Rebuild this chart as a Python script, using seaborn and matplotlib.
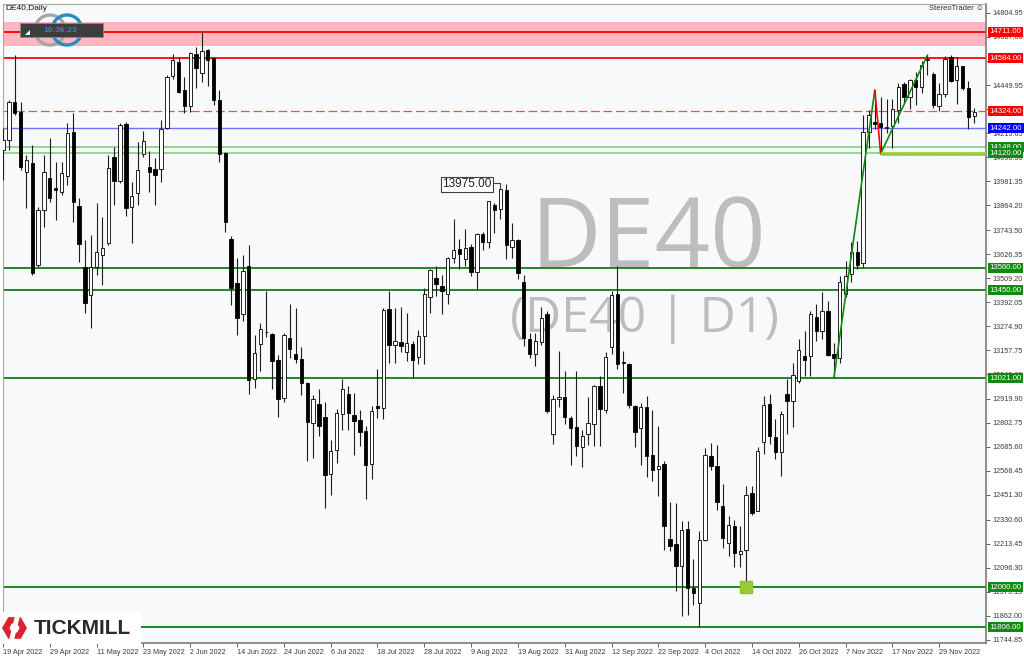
import numpy as np
import matplotlib
matplotlib.use("Agg")
import matplotlib.pyplot as plt
import seaborn as sns
from matplotlib.patches import Rectangle, Circle, RegularPolygon, Polygon
import matplotlib.transforms as mtransforms

# ---------------- data (daily DE40 candles, 19 Apr 2022 .. 7 Dec 2022) ----------------
opens = [14135, 14184, 14368, 14319, 14029, 14070, 13574, 13842, 14000, 13951,
         13932, 14010, 14224, 13863, 13565, 13427, 13565, 13622, 13679, 14102,
         13984, 14260, 13858, 13923, 14114, 14053, 14042, 14042, 14241, 14498,
         14563, 14428, 14351, 14602, 14509, 14623, 14582, 14379, 14119, 13699,
         13484, 13332, 13571, 13018, 13190, 13248, 13239, 13109, 12925, 13218,
         13141, 13115, 12998, 12803, 12896, 12832, 12555, 12669, 12848, 12946,
         12842, 12819, 12762, 12604, 12884, 12873, 13360, 13182, 13198, 13148,
         13190, 13125, 13226, 13418, 13511, 13473, 13430, 13609, 13653, 13604,
         13662, 13539, 13723, 13685, 13864, 13845, 13942, 13662, 13695, 13490,
         13213, 13141, 13197, 13332, 12746, 12917, 12930, 12827, 12783, 12685,
         12746, 12799, 12985, 12868, 13174, 13434, 13099, 13088, 12887, 12778,
         12881, 12648, 12578, 12604, 12236, 12209, 12106, 12285, 11997, 11924,
         12233, 12640, 12591, 12396, 12217, 12298, 12162, 12183, 12458, 12371,
         12711, 12894, 12733, 12659, 12943, 12908, 13007, 13129, 13129, 13321,
         13251, 13350, 13141, 13120, 13430, 13530, 13639, 13582, 14221, 14270,
         14267, 14243, 14253, 14331, 14458, 14394, 14479, 14441, 14575, 14505,
         14349, 14410, 14587, 14476, 14546, 14436, 14299]
highs = [14241, 14379, 14599, 14371, 14110, 14159, 13858, 14110, 14192, 14078,
         14078, 14265, 14314, 13899, 13696, 13720, 13875, 13809, 14110, 14151,
         14265, 14273, 13980, 14176, 14228, 14130, 14094, 14281, 14501, 14602,
         14590, 14493, 14615, 14639, 14709, 14628, 14586, 14428, 14127, 13717,
         13606, 13620, 13669, 13230, 13291, 13446, 13242, 13136, 13242, 13381,
         13364, 13174, 13001, 12941, 12966, 12904, 12718, 12871, 13019, 12982,
         12949, 12865, 12786, 12884, 13066, 13364, 13446, 13364, 13369, 13337,
         13202, 13255, 13462, 13555, 13568, 13527, 13613, 13796, 13698, 13750,
         13674, 13731, 13734, 13885, 13877, 13950, 13967, 13780, 13700, 13527,
         13242, 13242, 13369, 13348, 12941, 13153, 13055, 12835, 13055, 12767,
         12930, 12990, 13034, 13148, 13446, 13568, 13153, 13096, 12892, 12900,
         12936, 12865, 12786, 12615, 12415, 12412, 12322, 12322, 12138, 12274,
         12681, 12705, 12697, 12502, 12347, 12331, 12298, 12493, 12493, 12685,
         12932, 12943, 12820, 12859, 13019, 13094, 13211, 13251, 13350, 13382,
         13443, 13399, 13193, 13521, 13591, 13687, 13692, 14305, 14331, 14427,
         14395, 14384, 14384, 14462, 14465, 14483, 14514, 14570, 14598, 14514,
         14462, 14593, 14601, 14587, 14546, 14471, 14340]
lows = [13988, 14135, 14306, 14037, 13850, 13525, 13565, 13761, 13883, 13793,
        13915, 13964, 13785, 13590, 13338, 13264, 13525, 13476, 13671, 13866,
        13972, 13814, 13679, 13866, 14102, 13932, 13866, 13980, 14237, 14481,
        14411, 14314, 14322, 14439, 14468, 14449, 14355, 14078, 13736, 13378,
        13232, 13299, 12946, 12974, 13055, 13220, 12966, 12832, 12904, 13120,
        13096, 12941, 12616, 12632, 12738, 12388, 12453, 12607, 12770, 12767,
        12648, 12692, 12432, 12529, 12827, 12822, 13096, 13093, 13148, 13104,
        13023, 13088, 13088, 13337, 13421, 13332, 13381, 13584, 13555, 13568,
        13519, 13454, 13649, 13657, 13731, 13796, 13604, 13609, 13506, 13180,
        13120, 13079, 13185, 12852, 12702, 12881, 12795, 12599, 12640, 12588,
        12697, 12692, 12689, 12852, 13141, 13067, 12949, 12876, 12686, 12599,
        12539, 12518, 12445, 12184, 12176, 11981, 11858, 11867, 11915, 11806,
        12225, 12575, 12379, 12192, 12152, 12099, 12101, 12000, 12354, 12371,
        12650, 12702, 12624, 12542, 12746, 12781, 12998, 13033, 13033, 13204,
        13211, 13129, 13021, 13094, 13417, 13490, 13556, 13565, 14145, 14235,
        14117, 14218, 14145, 14267, 14366, 14336, 14354, 14413, 14500, 14340,
        14323, 14392, 14465, 14361, 14427, 14239, 14267]
closes = [14184, 14371, 14314, 14053, 14086, 13533, 13842, 14029, 13902, 13940,
          14021, 14216, 13883, 13674, 13386, 13565, 13635, 13658, 14049, 13984,
          14257, 13850, 13912, 14037, 14180, 14029, 14013, 14237, 14493, 14574,
          14416, 14351, 14607, 14533, 14618, 14574, 14379, 14114, 13782, 13463,
          13313, 13543, 13011, 13145, 13262, 13244, 13104, 12920, 13231, 13161,
          13115, 12995, 12808, 12920, 12786, 12550, 12664, 12852, 12969, 12852,
          12811, 12757, 12599, 12860, 12874, 13353, 13185, 13202, 13177, 13193,
          13112, 13226, 13434, 13547, 13483, 13446, 13609, 13649, 13625, 13657,
          13539, 13723, 13685, 13885, 13841, 13946, 13669, 13695, 13532, 13218,
          13141, 13202, 13316, 12860, 12920, 12930, 12832, 12778, 12692, 12741,
          12803, 12985, 12871, 13125, 13425, 13088, 13093, 12892, 12757, 12881,
          12640, 12575, 12594, 12298, 12204, 12106, 12282, 11997, 11972, 12233,
          12648, 12591, 12415, 12241, 12306, 12168, 12176, 12449, 12362, 12667,
          12891, 12737, 12659, 12845, 12908, 13037, 13159, 13112, 13333, 13251,
          13350, 13134, 13120, 13490, 13521, 13639, 13573, 14221, 14308, 14262,
          14249, 14248, 14336, 14444, 14396, 14476, 14441, 14549, 14580, 14354,
          14406, 14580, 14471, 14546, 14436, 14296, 14319]

date_labels = ["19 Apr 2022", "29 Apr 2022", "11 May 2022", "23 May 2022", "2 Jun 2022",
               "14 Jun 2022", "24 Jun 2022", "6 Jul 2022", "18 Jul 2022", "28 Jul 2022",
               "9 Aug 2022", "19 Aug 2022", "31 Aug 2022", "12 Sep 2022", "22 Sep 2022",
               "4 Oct 2022", "14 Oct 2022", "26 Oct 2022", "7 Nov 2022", "17 Nov 2022",
               "29 Nov 2022"]
date_bar_index = [0, 8, 16, 24, 32, 40, 48, 56, 64, 72, 80, 88, 96, 104, 112,
                  120, 128, 136, 144, 152, 160]

price_ticks = [14804.95, 14687.80, 14570.65, 14449.95, 14332.80, 14215.65, 14098.50,
               13981.35, 13864.20, 13743.50, 13626.35, 13509.20, 13392.05, 13274.90,
               13157.75, 13040.60, 12919.90, 12802.75, 12685.60, 12568.45, 12451.30,
               12330.60, 12213.45, 12096.30, 11979.15, 11862.00, 11744.85]

red_levels = [14711.0, 14584.0]
dashed_level = 14324.0
blue_level = 14242.0
lightgreen_levels = [14148.0, 14120.0]
green_levels = [13560.0, 13450.0, 13021.0, 12000.0, 11806.0]
zone_low, zone_high = 14645.0, 14760.0

trend_up1 = ([142, 149], [13021, 14427])
trend_down = ([149, 150], [14427, 14117])
trend_up2 = ([150, 158], [14117, 14598])
support_start, support_level = 150, 14117
marker_bar, marker_price = 127, 12000
label_bar, label_price = 85, 13975.0

# ---------------- figure ----------------
sns.set_style("white")
plt.rcParams["font.family"] = ["Liberation Sans", "DejaVu Sans"]

W, H = 1024, 658
fig = plt.figure(figsize=(W / 100, H / 100), dpi=100, facecolor="white")
ax_l, ax_r, ax_t, ax_b = 2.7, 986.0, 3.5, 643.0
ax = fig.add_axes([ax_l / W, 1 - ax_b / H, (ax_r - ax_l) / W, (ax_b - ax_t) / H])
ax.set_facecolor("#f8f9fb")

n = len(opens)
xs = np.arange(n)
o = np.array(opens, float)
c = np.array(closes, float)
hi = np.array(highs, float)
lo = np.array(lows, float)
up = c >= o

# zone and levels
ax.axhspan(zone_low, zone_high, color="#ffb6c1", lw=0, zorder=1)
for lv in red_levels:
    ax.axhline(lv, color="#ff0000", lw=1.3, zorder=2)
ax.axhline(dashed_level, color="#ff4a4a", lw=0.9, ls=(0, (7, 3)), zorder=2)
ax.axhline(blue_level, color="#6f6fff", lw=1.0, zorder=2)
for lv in lightgreen_levels:
    ax.axhline(lv, color="#8fd18f", lw=1.3, zorder=2)
for lv in green_levels:
    ax.axhline(lv, color="#1b8a1b", lw=1.4, zorder=2)

# watermark
def px2ax(px, py):
    return (px - ax_l) / (ax_r - ax_l), 1 - (py - ax_t) / (ax_b - ax_t)

wx, wy = px2ax(648, 267)
ax.text(wx, wy, "DE40", transform=ax.transAxes, ha="center", va="baseline",
        fontsize=70, color="#bdbdbd", family="Open Sans", zorder=1.5)
wx, wy = px2ax(645, 332)
ax.text(wx, wy, "(DE40 | D1)", transform=ax.transAxes, ha="center", va="baseline",
        fontsize=36, color="#bdbdbd", family="Open Sans", zorder=1.5)

# candles
ax.vlines(xs, lo, hi, color="#1e1e1e", lw=0.8, zorder=3)
bw = 0.58
ax.bar(xs[up], np.maximum(c - o, 1)[up], bottom=o[up], width=bw, color="white",
       edgecolor="black", lw=0.6, zorder=4)
ax.bar(xs[~up], np.maximum(o - c, 1)[~up], bottom=c[~up], width=bw, color="black",
       edgecolor="black", lw=0.6, zorder=4)

# trend lines
sns.lineplot(x=trend_up1[0], y=trend_up1[1], ax=ax, color="#0b8a0b", lw=1.2,
             estimator=None, sort=False, zorder=5)
sns.lineplot(x=trend_down[0], y=trend_down[1], ax=ax, color="#ff0000", lw=1.2,
             estimator=None, sort=False, zorder=5)
sns.lineplot(x=trend_up2[0], y=trend_up2[1], ax=ax, color="#0b8a0b", lw=1.2,
             estimator=None, sort=False, zorder=5)
ax.plot([support_start, 170], [support_level, support_level], color="#a8d040",
        lw=2.6, zorder=5, solid_capstyle="butt")
ax.plot([support_start, 170], [support_level, support_level], color="#7ea628",
        lw=0.8, ls=(0, (1, 1.5)), zorder=5)
ax.plot([marker_bar], [marker_price], marker="s", ms=8.5, color="#9acd32",
        mec="#8cc02a", zorder=6)

# price label for the high
ax.text(label_bar - 1.45, label_price - 8, f"{label_price:.2f}", ha="right", va="center",
        fontsize=8.5, color="#202020",
        bbox=dict(boxstyle="square,pad=0.12", fc="white", ec="#404040", lw=0.8), zorder=7)
ax.plot([label_bar - 1.25, label_bar, label_bar], [label_price, label_price, hi[label_bar]],
        color="#404040", lw=0.8, zorder=7)

ax.set_xlim(-0.05, 168.0)
ax.set_ylim(11728.1, 14850.1)

# axes styling
for s in ["left", "top"]:
    ax.spines[s].set_color("#a8a8a8")
    ax.spines[s].set_linewidth(0.8)
for s in ["right", "bottom"]:
    ax.spines[s].set_color("#7a7a7a")
    ax.spines[s].set_linewidth(1.2)

ax.yaxis.tick_right()
ax.set_yticks(price_ticks)
ax.set_yticklabels([f"{v:.2f}" for v in price_ticks])
ax.tick_params(axis="y", which="both", right=True, left=False, length=3, width=0.7,
               color="#606060", pad=1.5, labelsize=5.2, labelcolor="#3a3a3a")
ax.set_xticks(date_bar_index)
ax.set_xticklabels(date_labels, ha="left")
ax.tick_params(axis="x", which="both", bottom=True, length=3, width=0.7,
               color="#606060", pad=1.0, labelsize=5.2, labelcolor="#3a3a3a")
for lab in ax.get_xticklabels():
    lab.set_horizontalalignment("left")

# coloured price boxes on right scale
trans = mtransforms.blended_transform_factory(ax.transAxes, ax.transData)
boxes = [(v, "#ff0000") for v in red_levels] + [(dashed_level, "#ff0000"),
                                                 (blue_level, "#0000ff")]
boxes += [(v, "#108a10") for v in lightgreen_levels] + [(v, "#108a10") for v in green_levels]
for v, col in boxes:
    ax.annotate(f"{v:.2f}", xy=(1.0, v), xycoords=trans, xytext=(2.6, 0),
                textcoords="offset points", ha="left", va="center", fontsize=5.6,
                color="white", annotation_clip=False, zorder=10,
                bbox=dict(boxstyle="square,pad=0.18", fc=col, ec=col, lw=0))

# ---------------- overlay decorations (pixel coordinates) ----------------
ov = fig.add_axes([0, 0, 1, 1])
ov.set_xlim(0, W)
ov.set_ylim(H, 0)
ov.axis("off")
ov.patch.set_alpha(0)

ov.text(5, 9, "DE40,Daily", fontsize=6, color="#101010", ha="left", va="center")
ov.text(984, 9, "StereoTrader \u263a", fontsize=5.5, color="#303030", ha="right",
        va="center", family=["Liberation Sans", "DejaVu Sans"])

# logo circles behind timer box
ov.add_patch(Circle((50, 30), 15, fill=False, ec="#a6a6a6", lw=2.4))
ov.add_patch(Circle((67, 30), 15, fill=False, ec="#2a8bc4", lw=2.4))
ov.add_patch(Rectangle((20, 23), 83, 14, fc="#3d3d3d", ec="#8a8a8a", lw=0.6))
ov.add_patch(Polygon([[25, 34.5], [30, 34.5], [30, 29.5]], closed=True, fc="white", ec="none"))
ov.text(60, 30, "10:36:23", fontsize=6, color="#3f7fcf", ha="center", va="center",
        fontweight="bold")

# Tickmill logo
ov.add_patch(Rectangle((0, 612), 141, 31.5, fc="white", ec="none"))
ov.add_patch(RegularPolygon((14.5, 628), numVertices=6, radius=12.5, orientation=np.pi / 6,
                            fc="#d9232e", ec="none"))
ov.add_patch(RegularPolygon((14.5, 628), numVertices=6, radius=5.2, orientation=np.pi / 6,
                            fc="white", ec="none"))
ov.add_patch(Polygon([[16, 612], [21, 612], [13, 644], [8, 644]], closed=True,
                     fc="white", ec="none"))
ov.text(34, 628.5, "TICKMILL", fontsize=15, fontweight="bold", color="#2a2a2a",
        ha="left", va="center")

fig.savefig("out.png", dpi=100, facecolor="white")
